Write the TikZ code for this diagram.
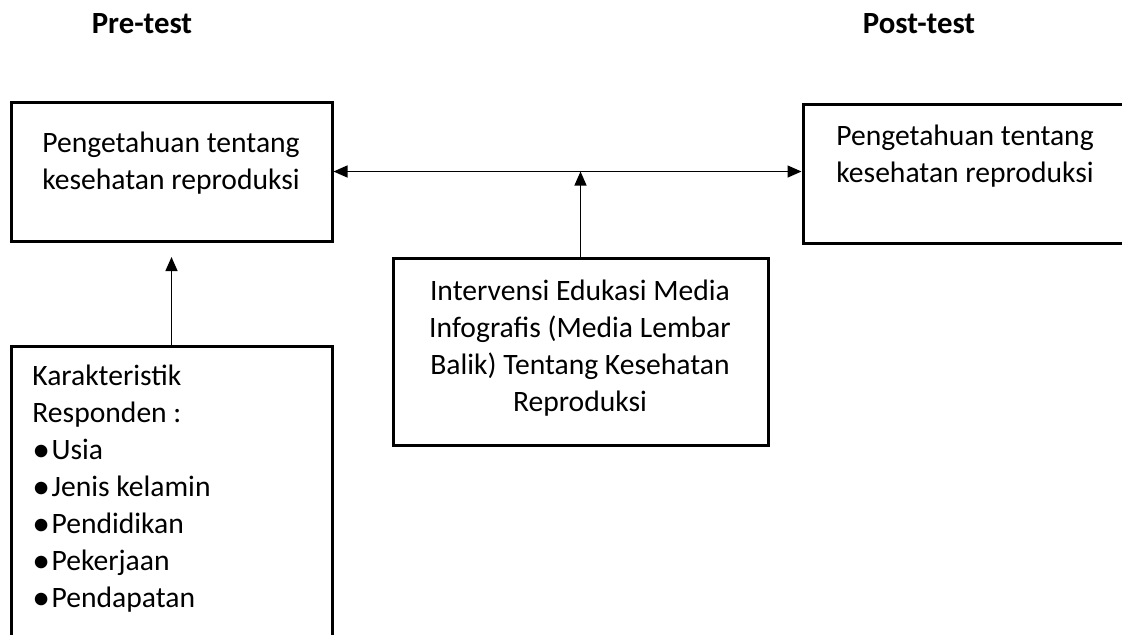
\documentclass[tikz,border=0pt]{standalone}
\usepackage{fontspec}
\usepackage{graphicx}
\setmainfont{Carlito}
\usetikzlibrary{arrows.meta}
\tikzset{
  box/.style={draw, line width=1.5pt, inner sep=0pt},
  conn/.style={line width=0.65pt, -{Triangle[length=7pt,width=6pt]}},
  conn2/.style={line width=0.65pt, {Triangle[length=7pt,width=6pt]}-{Triangle[length=7pt,width=6pt]}},
  txt/.style={inner sep=0pt, anchor=base, font=\fontsize{14.8}{18.5}\selectfont},
  title/.style={inner sep=0pt, anchor=base, font=\fontsize{15.4}{18.5}\selectfont\bfseries},
}
\newcommand{\bl}{\makebox[9.6pt][l]{\raisebox{-1.0pt}{\scalebox{1.2}{•}}}}
\begin{document}
\begin{tikzpicture}[x=0.5pt,y=-0.5pt]
\useasboundingbox (0,0) rectangle (1122,634);
\clip (0,0) rectangle (1122,634);
% titles
\node[title] (pre) at (142,33) {Pre-test};
\node[title] (post) at (919,33) {Post-test};
% boxes
\node[box, minimum width=160.5pt, minimum height=69.5pt] (lbox) at (171.5,171.5) {};
\node[box, minimum width=168.5pt, minimum height=69.5pt] (rbox) at (971.5,173.5) {};
\node[box, minimum width=187.5pt, minimum height=93.5pt] (mid) at (580.5,351.5) {};
\node[box, minimum width=160.5pt, minimum height=167pt] (kar) at (171.5,513) {};
% texts
\node[txt] (ltext) at (171,152) {\begin{tabular}[t]{@{}c@{}}Pengetahuan tentang\\kesehatan reproduksi\end{tabular}};
\node[txt, anchor=base west] (rtext) at (836,145) {\begin{tabular}[t]{@{}l@{}}Pengetahuan tentang\\kesehatan reproduksi\end{tabular}};
\node[txt] (mtext) at (580,300) {\begin{tabular}[t]{@{}c@{}}Intervensi Edukasi Media\\Infografis (Media Lembar\\Balik) Tentang Kesehatan\\Reproduksi\end{tabular}};
\node[txt, anchor=base west] (ktext) at (32,385) {\begin{tabular}[t]{@{}l@{}}Karakteristik\\Responden :\\\bl Usia\\\bl Jenis kelamin\\\bl Pendidikan\\\bl Pekerjaan\\\bl Pendapatan\end{tabular}};
% connectors
\coordinate (hl) at (lbox.east -| mid.north);
\coordinate (ltip) at (173,257);
\draw[conn2] (lbox.east) -- (lbox.east -| rbox.west);
\draw[conn] (mid.north) -- (hl);
\draw[conn] (kar.north) -- (kar.north |- ltip);
\end{tikzpicture}
\end{document}
